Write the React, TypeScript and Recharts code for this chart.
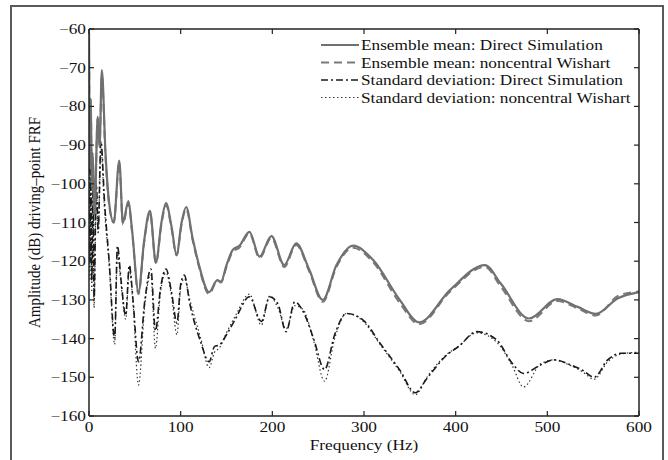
import React from "react";
import { LineChart, Line, XAxis, YAxis, Legend } from "recharts";

// ---------- data ----------
const meanFreq = [0, 1, 2, 3, 4, 6, 9.5, 11.5, 14, 18, 22, 27, 33, 37, 43, 47, 54, 60, 66.5, 73, 79, 84, 90, 95.5, 101, 106, 113, 120, 131, 140, 144, 150, 157, 164, 175, 186, 199, 213, 226, 240, 255, 270, 288, 310, 339, 360, 394, 432, 449, 480, 511, 533, 553, 577, 600];
const meanDirect = [-61, -95, -78, -100, -92, -108, -82.7, -90.5, -70.6, -92, -105, -110, -94, -110, -104.5, -112, -128, -115, -107, -120.4, -110, -105, -111, -118.4, -110, -106, -114, -121, -128, -124.9, -125.3, -121, -117, -116, -112.4, -118.8, -113.5, -121, -115.4, -122, -130, -121, -116, -119.7, -130, -135.8, -127.4, -121, -125.7, -134.8, -129.8, -131.8, -133.6, -129.6, -128];
const meanWishart = [-61, -96, -79, -101, -93, -108, -83, -90, -72, -93, -105.5, -110, -94.5, -110.5, -105, -112.5, -128.5, -115.5, -107.5, -120.5, -110.5, -105.5, -111.5, -118.5, -110.5, -106.5, -114.5, -121.5, -128.5, -125, -125.5, -121.5, -117.5, -116.5, -112.8, -119.2, -114, -121.5, -115.8, -122.5, -130.5, -121.5, -116.5, -120.3, -130.8, -136.3, -127.8, -121.5, -126.5, -135.5, -130.3, -132.2, -134, -129, -127.8];

const stdFreq = [0, 1, 2, 3, 4.5, 5.5, 8, 10, 13, 17, 22, 28, 31, 35, 40, 44, 48, 54, 61, 67.5, 72.5, 78, 84, 90, 96, 100, 104, 110, 122, 131, 137, 142, 150, 160, 175, 188, 197, 206, 215, 224.5, 233.6, 245, 257, 268, 281, 299, 317.5, 339, 356, 368.6, 390.6, 403, 423, 445, 461.7, 474, 492.7, 507, 525.6, 538, 551, 565.8, 580, 600];
const stdDirect = [-80, -120, -95, -125, -100, -130, -100, -112, -89, -105, -120, -140, -116, -125, -134, -121, -130, -146, -130, -122, -138, -127, -122, -128, -136, -126, -123.6, -131, -141, -146, -142, -141.7, -139, -134.8, -129.2, -135.6, -129.2, -131, -138.2, -130.5, -133, -140, -148, -139, -133.5, -135.2, -141.2, -148.1, -154, -150.3, -144.2, -142.1, -138.2, -140.4, -146.4, -149, -146.8, -145.5, -146.8, -148.1, -150, -145.5, -143.8, -143.8];
const stdWishart = [-82, -125, -97, -128, -103, -132, -102, -113, -91, -107, -121, -141.5, -118, -126, -135, -122, -131, -152, -131, -123.5, -142.5, -128, -123, -129, -139, -127, -124.5, -130, -140, -147.5, -143.5, -142.5, -138.5, -134, -128.5, -136.5, -129, -132, -137.5, -131.5, -132.5, -140.5, -151, -140, -133.5, -135.5, -141.5, -148.5, -154.5, -150, -144, -142, -138.5, -141, -147, -152.5, -146.5, -145.5, -147, -148.5, -150.5, -146, -144, -143.5];

const xTicks = [0, 100, 200, 300, 400, 500, 600];
const yTicks = [-160, -150, -140, -130, -120, -110, -100, -90, -80, -70, -60];

const seriesNames = [
  "Ensemble mean: Direct Simulation",
  "Ensemble mean: noncentral Wishart",
  "Standard deviation: Direct Simulation",
  "Standard deviation: noncentral Wishart",
];

// ---------- tables for the library ----------
const meanData = meanFreq.map((f, i) => ({ f, d: meanDirect[i], w: meanWishart[i] }));
const stdData = stdFreq.map((f, i) => ({ f, d: stdDirect[i], w: stdWishart[i] }));

// ---------- styles ----------
const FONT = "'Liberation Serif', 'DejaVu Serif', serif";
const FS = 15;
const SX = 1.15;
const styles = [
  { stroke: "#707070", width: 2.2, dash: undefined as string | undefined },
  { stroke: "#7a7a7a", width: 2, dash: "8 5" },
  { stroke: "#1a1a1a", width: 1.6, dash: "7 3 2 3" },
  { stroke: "#3a3a3a", width: 1.2, dash: "1.5 2.5" },
];

const fmt = (v: number) => (v < 0 ? "\u2212" + Math.abs(v) : String(v));

const BottomTick = (p: any) => (
  <g>
    <line x1={p.x} x2={p.x} y1={p.y} y2={p.y - 5} stroke="#222" strokeWidth={1.2} />
    <text transform={`translate(${p.x},${p.y + 16}) scale(${SX},1)`} textAnchor="middle" fontFamily={FONT} fontSize={FS} fill="#111">
      {fmt(p.payload.value)}
    </text>
  </g>
);
const TopTick = (p: any) => (
  <line x1={p.x} x2={p.x} y1={p.y} y2={p.y + 5} stroke="#222" strokeWidth={1.2} />
);
const LeftTick = (p: any) => (
  <g>
    <line x1={p.x} x2={p.x + 5} y1={p.y} y2={p.y} stroke="#222" strokeWidth={1.2} />
    <text transform={`translate(${p.x - 3},${p.y + 5}) scale(${SX},1)`} textAnchor="end" fontFamily={FONT} fontSize={FS} fill="#111">
      {fmt(p.payload.value)}
    </text>
  </g>
);
const RightTick = (p: any) => (
  <line x1={p.x} x2={p.x - 5} y1={p.y} y2={p.y} stroke="#222" strokeWidth={1.2} />
);

const XLabel = () => (
  <text transform={`translate(364,449.5) scale(${SX},1)`} textAnchor="middle" fontFamily={FONT} fontSize={FS} fill="#111">
    Frequency (Hz)
  </text>
);
const YLabel = () => (
  <text transform={`translate(40,222.5) rotate(-90) scale(1,${SX})`} textAnchor="middle" fontFamily={FONT} fontSize={FS} fill="#111">
    Amplitude (dB) driving{"\u2013"}point FRF
  </text>
);

const LegendBox = () => (
  <svg width={340} height={80} style={{ display: "block" }}>
    {seriesNames.map((name, i) => {
      const y = 15 + i * 17.5;
      const s = styles[i];
      return (
        <g key={name}>
          <line x1={21} x2={59} y1={y} y2={y} stroke={s.stroke} strokeWidth={s.width} strokeDasharray={s.dash} />
          <text transform={`translate(61,${y + 5}) scale(${SX},1)`} fontFamily={FONT} fontSize={FS} fill="#111">
            {name}
          </text>
        </g>
      );
    })}
  </svg>
);

export default function App() {
  return (
    <div style={{ position: "absolute", left: 0, top: 0, width: 668, height: 460, overflow: "hidden", background: "#fff" }}>
      <div style={{ position: "absolute", left: 10, top: 5, width: 650, height: 500, border: "2px solid #5a5a5a" }} />
      <div style={{ position: "absolute", left: 0, top: 0 }}>
        <LineChart width={668} height={460} margin={{ top: 9, right: 9, bottom: 14, left: 29 }}>
          <XAxis xAxisId="b" dataKey="f" type="number" domain={[0, 600]} ticks={xTicks} interval={0} allowDataOverflow
            height={30} tickSize={0} tickMargin={0} tickLine={false} tick={<BottomTick />}
            axisLine={{ stroke: "#222", strokeWidth: 1.5 }} label={<XLabel />} />
          <XAxis xAxisId="t" orientation="top" dataKey="f" type="number" domain={[0, 600]} ticks={xTicks} interval={0} allowDataOverflow
            height={20} tickSize={0} tickMargin={0} tickLine={false} tick={<TopTick />}
            axisLine={{ stroke: "#222", strokeWidth: 1.5 }} />
          <YAxis yAxisId="l" type="number" domain={[-160, -60]} ticks={yTicks} interval={0} allowDataOverflow
            width={60} tickSize={0} tickMargin={0} tickLine={false} tick={<LeftTick />}
            axisLine={{ stroke: "#222", strokeWidth: 1.5 }} label={<YLabel />} />
          <YAxis yAxisId="r" orientation="right" type="number" domain={[-160, -60]} ticks={yTicks} interval={0} allowDataOverflow
            width={20} tickSize={0} tickMargin={0} tickLine={false} tick={<RightTick />}
            axisLine={{ stroke: "#222", strokeWidth: 1.5 }} />
          <Legend layout="vertical" align="center" verticalAlign="middle" content={<LegendBox />}
            wrapperStyle={{ position: "absolute", left: 300, top: 30, width: 340, height: 80 }} />
          <Line xAxisId="b" yAxisId="l" data={stdData} dataKey="w" name={seriesNames[3]} type="monotone" dot={false} activeDot={false}
            stroke={styles[3].stroke} strokeWidth={styles[3].width} strokeDasharray={styles[3].dash} isAnimationActive={false} />
          <Line xAxisId="b" yAxisId="l" data={stdData} dataKey="d" name={seriesNames[2]} type="monotone" dot={false} activeDot={false}
            stroke={styles[2].stroke} strokeWidth={styles[2].width} strokeDasharray={styles[2].dash} isAnimationActive={false} />
          <Line xAxisId="b" yAxisId="l" data={meanData} dataKey="w" name={seriesNames[1]} type="monotone" dot={false} activeDot={false}
            stroke={styles[1].stroke} strokeWidth={styles[1].width} strokeDasharray={styles[1].dash} isAnimationActive={false} />
          <Line xAxisId="b" yAxisId="l" data={meanData} dataKey="d" name={seriesNames[0]} type="monotone" dot={false} activeDot={false}
            stroke={styles[0].stroke} strokeWidth={styles[0].width} strokeDasharray={styles[0].dash} isAnimationActive={false} />
        </LineChart>
      </div>
    </div>
  );
}
